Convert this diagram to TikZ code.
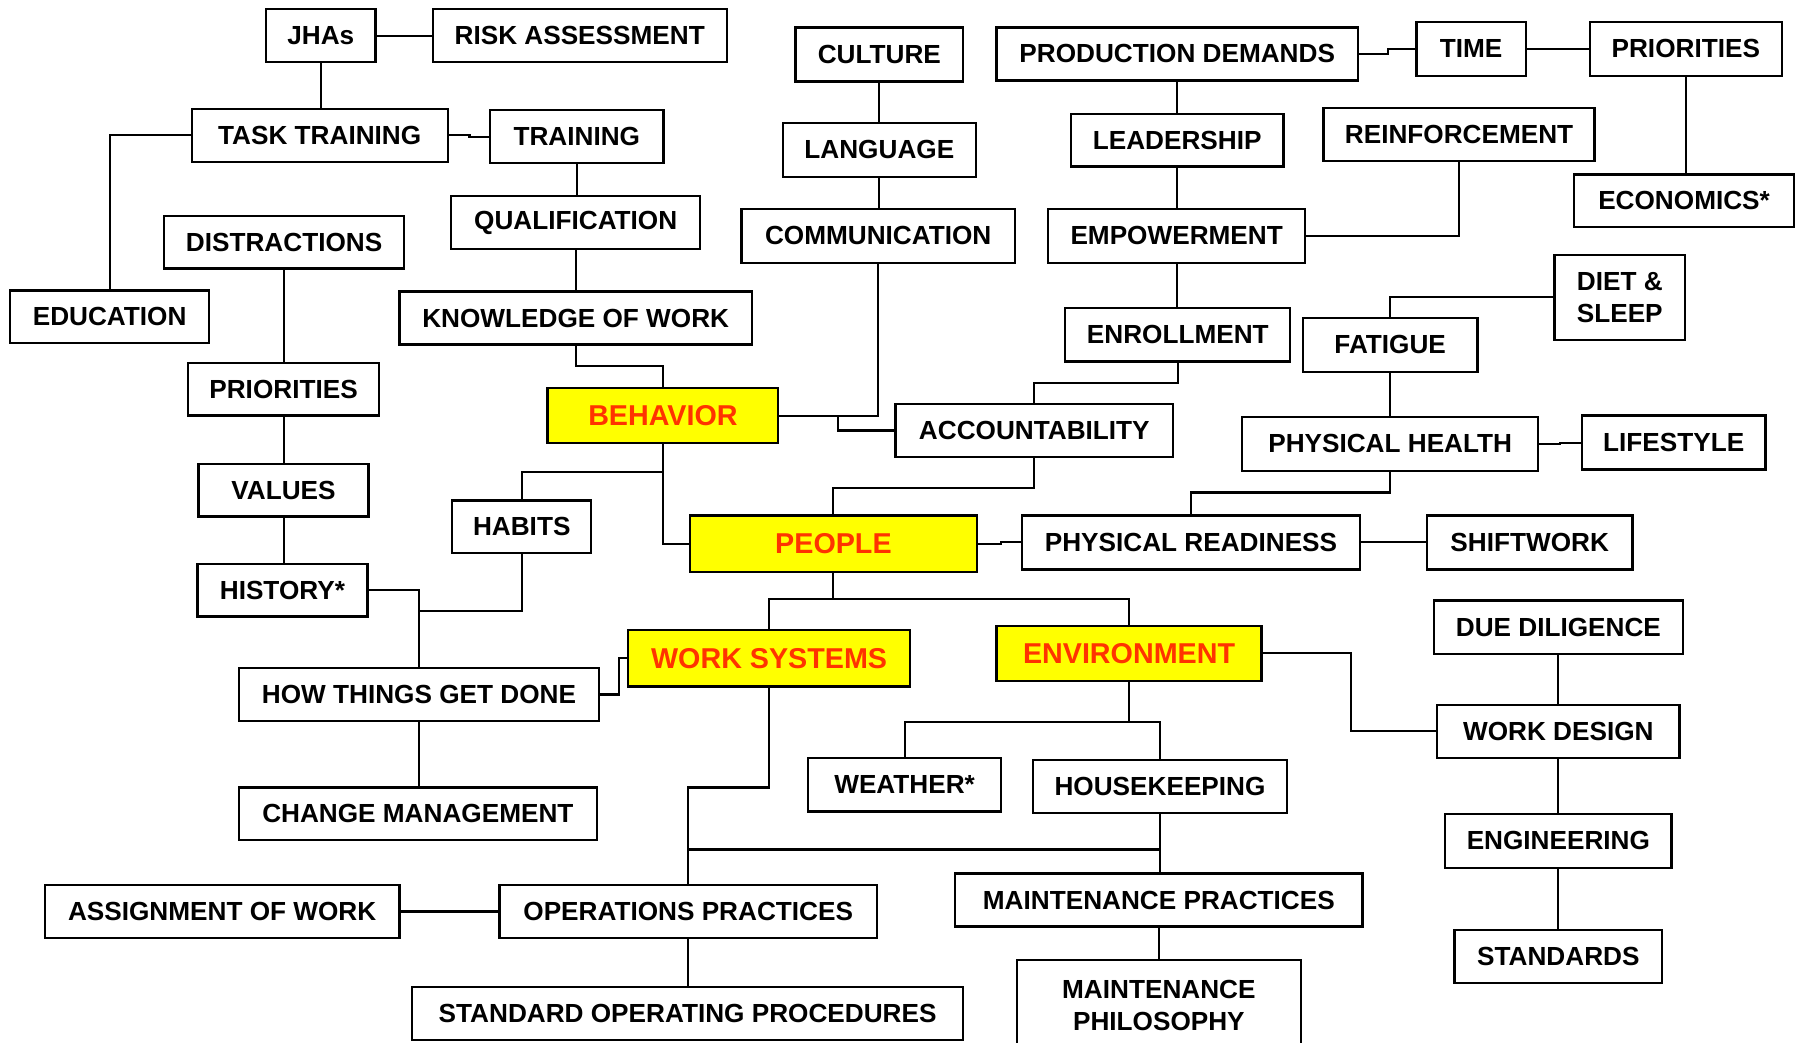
\documentclass[tikz,border=0pt]{standalone}
\usepackage{fontspec}
\setmainfont{Liberation Sans}

\definecolor{keyyellow}{RGB}{255,255,0}
\definecolor{keyred}{RGB}{255,51,0}

\begin{document}
\begin{tikzpicture}[x=1pt, y=-1pt,
	box/.style={draw, line width=2pt, inner sep=0pt, minimum height=46pt,
		font=\fontsize{22.8}{27.5}\selectfont\bfseries},
	key/.style={box, fill=keyyellow, text=keyred,
		font=\fontsize{25}{30}\selectfont\bfseries},
	link/.style={line width=1.8pt}]
	\useasboundingbox (0,0) rectangle (1568,908);

	% training side
	\node[box, minimum width=95pt]  (jha)      at (279.5,31)  {JHAs};
	\node[box, minimum width=256pt] (risk)     at (505,31)    {RISK ASSESSMENT};
	\node[box, minimum width=223pt] (tasktr)   at (278.5,118) {TASK TRAINING};
	\node[box, minimum width=151pt] (training) at (502.5,119) {TRAINING};
	\node[box, minimum width=217pt] (qual)     at (501.5,194) {QUALIFICATION};
	\node[box, minimum width=209pt] (distr)    at (247.5,211) {DISTRACTIONS};
	\node[box, minimum width=173pt] (edu)      at (95.5,276)  {EDUCATION};
	\node[box, minimum width=307pt] (know)     at (501.5,277) {KNOWLEDGE OF WORK};
	\node[box, minimum width=166pt] (prio)     at (247,339)   {PRIORITIES};
	\node[box, minimum width=148pt] (values)   at (247,427)   {VALUES};
	\node[box, minimum width=121pt] (habits)   at (454.5,459) {HABITS};
	\node[box, minimum width=148pt] (history)  at (246,514)   {HISTORY*};
	\node[box, minimum width=314pt] (how)      at (365,605)   {HOW THINGS GET DONE};
	\node[box, minimum width=312pt] (change)   at (364,709)   {CHANGE MANAGEMENT};

	% the four yellow keys
	\node[key, minimum width=201pt, minimum height=48pt] (beh)     at (577.5,362)   {BEHAVIOR};
	\node[key, minimum width=250pt, minimum height=49pt] (people)  at (726,473.5)   {PEOPLE};
	\node[key, minimum width=246pt, minimum height=49pt] (worksys) at (670,573.5)   {WORK SYSTEMS};
	\node[key, minimum width=231pt, minimum height=48pt] (env)     at (983.5,569)   {ENVIRONMENT};

	% culture and leadership
	\node[box, minimum width=146pt, minimum height=47pt] (culture) at (766,47.5)    {CULTURE};
	\node[box, minimum width=168pt, minimum height=47pt] (lang)    at (766,130.5)   {LANGUAGE};
	\node[box, minimum width=238pt, minimum height=47pt] (comm)    at (765,205.5)   {COMMUNICATION};
	\node[box, minimum width=315pt] (prod)    at (1025.5,47)   {PRODUCTION DEMANDS};
	\node[box, minimum width=95pt,  minimum height=47pt] (time)    at (1281.5,42.5) {TIME};
	\node[box, minimum width=167pt, minimum height=47pt] (prio2)   at (1468.5,42.5) {PRIORITIES};
	\node[box, minimum width=185pt] (lead)    at (1025.5,122)  {LEADERSHIP};
	\node[box, minimum width=236pt] (reinf)   at (1271,117)    {REINFORCEMENT};
	\node[box, minimum width=192pt] (econ)    at (1467,175)    {ECONOMICS*};
	\node[box, minimum width=224pt, minimum height=47pt] (emp)     at (1025,205.5)  {EMPOWERMENT};
	\node[box, minimum width=196pt, minimum height=47pt] (enr)     at (1026,291.5)  {ENROLLMENT};
	\node[box, minimum width=242pt] (acc)     at (901,375)     {ACCOUNTABILITY};

	% physical side
	\node[box, minimum width=114pt, minimum height=74pt, align=left] (diet) at (1411,259) {DIET \&\\SLEEP};
	\node[box, minimum width=152pt, minimum height=47pt] (fatigue) at (1211,300.5)  {FATIGUE};
	\node[box, minimum width=258pt, minimum height=47pt] (ph)      at (1211,386.5)  {PHYSICAL HEALTH};
	\node[box, minimum width=160pt, minimum height=47pt] (life)    at (1458,385.5)  {LIFESTYLE};
	\node[box, minimum width=295pt, minimum height=47pt] (pr)      at (1037.5,472.5) {PHYSICAL READINESS};
	\node[box, minimum width=179pt, minimum height=47pt] (shift)   at (1332.5,472.5) {SHIFTWORK};

	% work design column
	\node[box, minimum width=217pt, minimum height=47pt] (due) at (1357.5,546.5) {DUE DILIGENCE};
	\node[box, minimum width=211pt] (wd)  at (1357.5,637)   {WORK DESIGN};
	\node[box, minimum width=197pt, minimum height=47pt] (eng) at (1357.5,732.5) {ENGINEERING};
	\node[box, minimum width=181pt] (std) at (1357.5,833)   {STANDARDS};

	% practices
	\node[box, minimum width=168pt, minimum height=47pt] (weather) at (788,683.5) {WEATHER*};
	\node[box, minimum width=221pt] (house)     at (1010.5,685) {HOUSEKEEPING};
	\node[box, minimum width=309pt] (assign)    at (193.5,794)  {ASSIGNMENT OF WORK};
	\node[box, minimum width=329pt] (ops)       at (599.5,794)  {OPERATIONS PRACTICES};
	\node[box, minimum width=355pt] (maintp)    at (1009.5,784) {MAINTENANCE PRACTICES};
	\node[box, minimum width=480pt] (sop)       at (599,883)    {STANDARD OPERATING PROCEDURES};
	\node[box, minimum width=247pt, minimum height=80pt, align=center] (maintphil) at (1009.5,876) {MAINTENANCE\\PHILOSOPHY};

	% connectors, upper left
	\draw[link] (jha.east) -- (risk.west);
	\draw[link] (jha.south) -- (jha.south |- tasktr.north);
	\draw[link] (tasktr.east) -- ++(18,0) |- (training.west);
	\draw[link] (tasktr.west) -| (edu.north);
	\draw[link] (training.south) -- (training.south |- qual.north);
	\draw[link] (qual.south) -- (qual.south |- know.north);
	\draw[link] (know.south) -- ++(0,18) -| (beh.north);
	\draw[link] (distr.south) -- (distr.south |- prio.north);
	\draw[link] (prio.south) -- (prio.south |- values.north);
	\draw[link] (values.south) -- (values.south |- history.north);
	\draw[link] (history.east) -| (how.north);
	\draw[link] (habits.south) |- (how.north |- 0,532);
	\draw[link] (how.east) -- ++(16,0) |- (worksys.west);
	\draw[link] (how.south) -- (how.south |- change.north);

	% behavior
	\draw[link] (beh.south) |- (people.west);
	\draw[link] (habits.north) |- (beh.south |- 0,411);
	\draw[link] (beh.east) -| (comm.south);
	\draw[link] (beh.east -| 730,0) |- (acc.west);
	\draw[link] (culture.south) -- (culture.south |- lang.north);
	\draw[link] (lang.south) -- (lang.south |- comm.north);

	% people, upper right
	\draw[link] (acc.south) -- ++(0,26) -| (people.north);
	\draw[link] (enr.south) -- ++(0,18) -| (acc.north);
	\draw[link] (emp.south) -- (emp.south |- enr.north);
	\draw[link] (lead.south) -- (lead.south |- emp.north);
	\draw[link] (prod.south) -- (prod.south |- lead.north);
	\draw[link] (reinf.south) |- (emp.east);
	\draw[link] (prod.east) -- ++(25,0) |- (time.west);
	\draw[link] (time.east) -- (prio2.west);
	\draw[link] (prio2.south) -- (prio2.south |- econ.north);
	\draw[link] (people.east) -- ++(20,0) |- (pr.west);
	\draw[link] (pr.east) -- (shift.west);
	\draw[link] (pr.north) -- ++(0,-19) -| (ph.south);
	\draw[link] (ph.east) -- ++(18,0) |- (life.west);
	\draw[link] (fatigue.south) -- (fatigue.south |- ph.north);
	\draw[link] (fatigue.north) |- (diet.west);

	% lower half
	\draw[link] (people.south) -- ++(0,23) -| (worksys.north);
	\draw[link] (people.south) -- ++(0,23) -| (env.north);
	\draw[link] (worksys.south) -- ++(0,87) -| (ops.north);
	\draw[link] (ops.north |- 0,740) -- (maintp.north |- 0,740);
	\draw[link] (house.south) -- (house.south |- maintp.north);
	\draw[link] (maintp.south) -- (maintp.south |- maintphil.north);
	\draw[link] (assign.east) -- (ops.west);
	\draw[link] (ops.south) -- (ops.south |- sop.north);
	\draw[link] (env.south) -- ++(0,35) -| (weather.north);
	\draw[link] (env.south) -- ++(0,35) -| (house.north);
	\draw[link] (env.east) -- ++(77,0) |- (wd.west);
	\draw[link] (due.south) -- (due.south |- wd.north);
	\draw[link] (wd.south) -- (wd.south |- eng.north);
	\draw[link] (eng.south) -- (eng.south |- std.north);
\end{tikzpicture}
\end{document}
